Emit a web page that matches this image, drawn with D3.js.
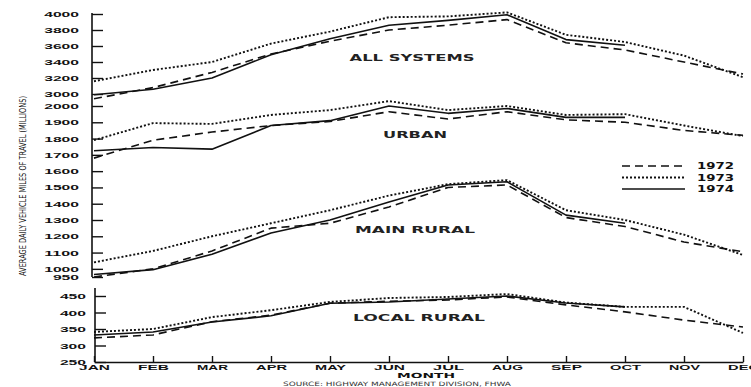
<!DOCTYPE html>
<html>
<head>
<meta charset="utf-8">
<script src="https://cdn.jsdelivr.net/npm/d3@7"></script>
<style>
  body { margin: 0; background: #fff; }
  svg { display: block; }
</style>
</head>
<body>
<div id="container"></div>
<script>
let width = 751;
let height = 387;

const months = ["JAN", "FEB", "MAR", "APR", "MAY", "JUN", "JUL", "AUG", "SEP", "OCT", "NOV", "DEC"];
const years = ["1972", "1973", "1974"];

// values in millions of vehicle miles per day (1974 only runs to October)
const allSystems1972 = [2940, 3080, 3270, 3500, 3660, 3800, 3860, 3930, 3640, 3550, 3400, 3250];
const allSystems1973 = [3160, 3300, 3400, 3630, 3780, 3960, 3970, 4020, 3740, 3650, 3480, 3210];
const allSystems1974 = [2990, 3060, 3200, 3490, 3690, 3860, 3920, 3990, 3680, 3610];

const urban1972 = [1680, 1790, 1840, 1880, 1905, 1965, 1920, 1965, 1915, 1900, 1850, 1820];
const urban1973 = [1790, 1895, 1890, 1945, 1975, 2030, 1975, 2000, 1945, 1950, 1880, 1815];
const urban1974 = [1725, 1745, 1735, 1880, 1910, 2000, 1955, 1985, 1930, 1930];

const mainRural1972 = [950, 1000, 1110, 1250, 1280, 1380, 1500, 1515, 1315, 1260, 1165, 1105];
const mainRural1973 = [1040, 1110, 1200, 1280, 1360, 1450, 1520, 1545, 1360, 1300, 1210, 1085];
const mainRural1974 = [965, 995, 1090, 1220, 1300, 1410, 1515, 1535, 1330, 1280];

const localRural1972 = [323, 332, 372, 392, 428, 434, 438, 447, 423, 402, 377, 356];
const localRural1973 = [341, 350, 386, 407, 432, 444, 447, 456, 430, 417, 417, 338];
const localRural1974 = [332, 341, 371, 390, 428, 432, 441, 450, 429, 417];

const allSystemsTicks = [3000, 3200, 3400, 3600, 3800, 4000];
const mainTicks = [950, 1000, 1100, 1200, 1300, 1400, 1500, 1600, 1700, 1800, 1900, 2000];
const localTicks = [250, 300, 350, 400, 450];

const svg = d3.select("#container").append("svg")
    .attr("width", width)
    .attr("height", height)
    .style("font-family", "'DejaVu Sans', sans-serif");

svg.append("rect").attr("width", width).attr("height", height).attr("fill", "#fff");

let x = d3.scalePoint().domain(months).range([94, 743]);
let yAll = d3.scaleLinear().domain([3000, 4000]).range([94, 14]);
let yMain = d3.scaleLinear().domain([950, 2000]).range([277, 106]);
let yLocal = d3.scaleLinear().domain([250, 450]).range([362, 296]);

let dashes = {"1972": "8,5", "1973": "2,2", "1974": null};
let widths = {"1972": 1.6, "1973": 1.9, "1974": 1.6};

let panels = [
  {name: "ALL SYSTEMS", y: yAll, series: [allSystems1972, allSystems1973, allSystems1974], lx: 412, ly: 61, len: 125},
  {name: "URBAN", y: yMain, series: [urban1972, urban1973, urban1974], lx: 415, ly: 138, len: 64},
  {name: "MAIN RURAL", y: yMain, series: [mainRural1972, mainRural1973, mainRural1974], lx: 415, ly: 233, len: 120},
  {name: "LOCAL RURAL", y: yLocal, series: [localRural1972, localRural1973, localRural1974], lx: 419, ly: 321, len: 132}
];

// stretch text to look like the wide typewriter lettering
function wide(sel, perChar) {
  sel.each(function() {
    const t = d3.select(this);
    t.attr("textLength", t.text().length * perChar).attr("lengthAdjust", "spacingAndGlyphs");
  });
}

function styleAxis(g, perChar) {
  g.select(".domain").remove();
  g.selectAll(".tick line").attr("stroke", "#111").attr("stroke-width", 1.4);
  g.selectAll(".tick text")
      .attr("fill", "#111")
      .style("font-size", "8px")
      .style("font-weight", "bold")
      .call(wide, perChar);
}

// y axes
svg.append("g")
    .attr("transform", "translate(92,0)")
    .call(d3.axisLeft(yAll).tickValues(allSystemsTicks).tickSize(-11).tickPadding(13).tickFormat(d3.format("d")))
    .call(styleAxis, 8.7);

svg.append("g")
    .attr("transform", "translate(92,0)")
    .call(d3.axisLeft(yMain).tickValues(mainTicks).tickSize(-11).tickPadding(13).tickFormat(d3.format("d")))
    .call(styleAxis, 8.7);

svg.append("g")
    .attr("transform", "translate(95,0)")
    .call(d3.axisLeft(yLocal).tickValues(localTicks).tickSize(-11).tickPadding(9).tickFormat(d3.format("d")))
    .call(styleAxis, 8.7);

svg.append("line")
    .attr("x1", 92).attr("x2", 92)
    .attr("y1", yAll(4000) - 1).attr("y2", yMain(950))
    .attr("stroke", "#111").attr("stroke-width", 1.6);

svg.append("line")
    .attr("x1", 95).attr("x2", 95)
    .attr("y1", 288).attr("y2", yLocal(250))
    .attr("stroke", "#111").attr("stroke-width", 1.6);

// month axis
const xAxis = svg.append("g")
    .attr("transform", "translate(0," + yLocal(250) + ")")
    .call(d3.axisBottom(x).tickSize(-6).tickSizeOuter(0).tickPadding(3));

xAxis.select(".domain").attr("stroke", "#111").attr("stroke-width", 1.6);
xAxis.selectAll(".tick line").attr("stroke", "#111").attr("stroke-width", 1.4);
xAxis.selectAll(".tick text")
    .attr("fill", "#111")
    .style("font-size", "7px")
    .style("font-weight", "bold")
    .call(wide, 10.3);

svg.append("text")
    .attr("x", 426).attr("y", 378)
    .attr("text-anchor", "middle")
    .style("font-size", "7px").style("font-weight", "bold")
    .attr("fill", "#111")
    .text("MONTH")
    .call(wide, 11.6);

svg.append("text")
    .attr("transform", "translate(26,186) rotate(-90)")
    .attr("text-anchor", "middle")
    .style("font-size", "9px")
    .attr("fill", "#111")
    .attr("textLength", 180).attr("lengthAdjust", "spacingAndGlyphs")
    .text("AVERAGE DAILY VEHICLE MILES OF TRAVEL (MILLIONS)");

svg.append("text")
    .attr("x", 283).attr("y", 386)
    .style("font-size", "6px")
    .attr("fill", "#333")
    .attr("textLength", 228).attr("lengthAdjust", "spacingAndGlyphs")
    .text("SOURCE: HIGHWAY MANAGEMENT DIVISION, FHWA");

// series lines
panels.forEach(function(p) {
  const line = d3.line().x(d => x(d[0])).y(d => p.y(d[1]));
  p.series.forEach(function(values, i) {
    const yr = years[i];
    svg.append("path")
        .datum(values.map((v, j) => [months[j], v]))
        .attr("fill", "none")
        .attr("stroke", "#111")
        .attr("stroke-width", widths[yr])
        .attr("stroke-dasharray", dashes[yr])
        .attr("stroke-linejoin", "round")
        .attr("d", line);
  });

  svg.append("text")
      .attr("x", p.lx).attr("y", p.ly)
      .attr("text-anchor", "middle")
      .style("font-size", "8.5px").style("font-weight", "bold")
      .attr("fill", "#222")
      .attr("textLength", p.len).attr("lengthAdjust", "spacingAndGlyphs")
      .text(p.name);
});

// legend
const legend = svg.append("g");
years.forEach(function(yr, i) {
  const ly = 166 + i * 11.5;
  legend.append("line")
      .attr("x1", 622).attr("x2", 685)
      .attr("y1", ly).attr("y2", ly)
      .attr("stroke", "#111")
      .attr("stroke-width", widths[yr])
      .attr("stroke-dasharray", dashes[yr]);
  legend.append("text")
      .attr("x", 697).attr("y", ly + 3)
      .style("font-size", "8.5px").style("font-weight", "bold")
      .attr("fill", "#111")
      .attr("textLength", 37).attr("lengthAdjust", "spacingAndGlyphs")
      .text(yr);
});
</script>
</body>
</html>
